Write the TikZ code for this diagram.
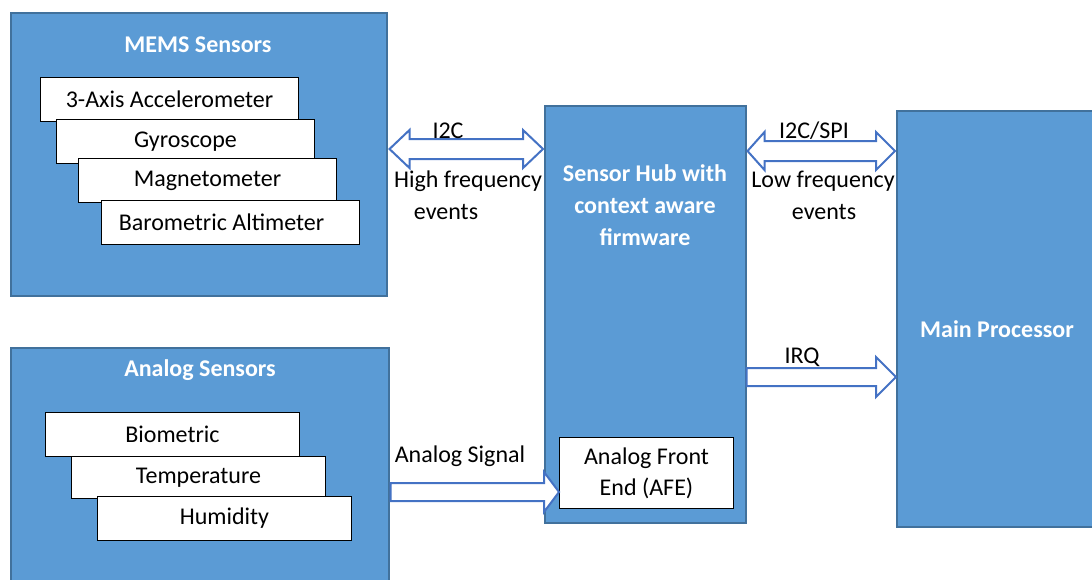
\documentclass[tikz,border=0pt]{standalone}
\usepackage{fontspec}
\setmainfont{Carlito}
\usetikzlibrary{calc}
\definecolor{boxfill}{HTML}{5B9BD5}
\definecolor{boxline}{HTML}{41719C}
\definecolor{arrline}{HTML}{4472C4}
\begin{document}
\begin{tikzpicture}[x=1pt,y=-1pt,
  bluebox/.style={draw=boxline,line width=1.5pt,fill=boxfill,anchor=north west,inner sep=0pt},
  sensor/.style={draw=black,line width=1pt,fill=white,anchor=north west,inner sep=0pt,
    minimum height=44pt,font=\fontsize{24}{28}\selectfont},
  title/.style={text=white,font=\fontsize{24}{28}\selectfont\bfseries,align=center},
  lbl/.style={font=\fontsize{24}{28}\selectfont,align=center}]
\tikzset{blockarrow/.style={draw=arrline,line width=2pt,fill=white,line join=miter}}
\useasboundingbox (0,0) rectangle (1092,579);

% sensor groups
\node[bluebox,minimum width=376pt,minimum height=283pt] (mems) at (10,12) {};
\node[title] at (198,45) {MEMS Sensors};
\node[sensor,minimum width=258pt] (acc) at (40,77) {3-Axis Accelerometer};
\node[sensor,minimum width=258pt] (gyr) at (56,119) {Gyroscope};
\node[sensor,minimum width=258pt] (mag) at (78,158) {Magnetometer};
\node[sensor,minimum width=258pt] (bar) at (101,200) {Barometric Altimeter\hspace*{18pt}};

\node[bluebox,minimum width=378pt,minimum height=240pt] (ana) at (10,347) {};
\node[title] at (200,370) {Analog Sensors};
\node[sensor,minimum width=254pt] (bio) at (45,412) {Biometric};
\node[sensor,minimum width=254pt,minimum height=42pt] (tmp) at (71,456) {Temperature};
\node[sensor,minimum width=254pt] (hum) at (97,496) {Humidity};

% hub and main processor
\node[bluebox,minimum width=201pt,minimum height=417pt] (hub) at (544,105) {};
\node[title,font=\fontsize{24}{32}\selectfont\bfseries] at (645,205)
  {Sensor Hub with\\context aware\\firmware};
\node[draw=black,line width=1pt,fill=white,anchor=north west,inner sep=0pt,
  minimum width=174pt,minimum height=71pt,align=center,
  font=\fontsize{24}{31}\selectfont] (afe) at (559,437) {Analog Front\\End (AFE)};

\node[bluebox,minimum width=200pt,minimum height=416pt] (cpu) at (896,110) {};
\node[title] at (997,329) {Main Processor};

% block arrows
\coordinate (y149) at (0,149);
\coordinate (y151) at (0,151);
\coordinate (y377) at (0,377);
\coordinate (y492) at (0,492);

\coordinate (aL) at ($(mems.east |- y149)+(2,0)$);
\coordinate (aR) at ($(hub.west |- y149)+(-1,0)$);
\draw[blockarrow] (aL) -- ($(aL)+(20,-19)$) -- ($(aL)+(20,-10)$) -- ($(aR)+(-20,-10)$)
  -- ($(aR)+(-20,-19)$) -- (aR) -- ($(aR)+(-20,19)$) -- ($(aR)+(-20,10)$)
  -- ($(aL)+(20,10)$) -- ($(aL)+(20,19)$) -- cycle;

\coordinate (bL) at ($(hub.east |- y151)+(1,0)$);
\coordinate (bR) at ($(cpu.west |- y151)+(-1,0)$);
\draw[blockarrow] (bL) -- ($(bL)+(17,-19)$) -- ($(bL)+(17,-10)$) -- ($(bR)+(-19,-10)$)
  -- ($(bR)+(-19,-19)$) -- (bR) -- ($(bR)+(-19,19)$) -- ($(bR)+(-19,10)$)
  -- ($(bL)+(17,10)$) -- ($(bL)+(17,19)$) -- cycle;

\coordinate (cL) at (hub.east |- y377);
\coordinate (cR) at (cpu.west |- y377);
\draw[blockarrow] (cL) -- ++(0,-9) -- ($(cR)+(-20,-9)$) -- ($(cR)+(-20,-20)$) -- (cR)
  -- ($(cR)+(-20,20)$) -- ($(cR)+(-20,9)$) -- ($(cL)+(0,9)$) -- cycle;

\coordinate (dL) at ($(ana.east |- y492)+(1,0)$);
\coordinate (dR) at (afe.west |- y492);
\draw[blockarrow] (dL) -- ++(0,-9) -- ($(dR)+(-15,-9)$) -- ($(dR)+(-15,-20)$) -- (dR)
  -- ($(dR)+(-15,20)$) -- ($(dR)+(-15,9)$) -- ($(dL)+(0,9)$) -- cycle;

% arrow labels
\node[lbl] at (448,131) {I2C};
\node[lbl] at (468,181) {High frequency};
\node[lbl] at (446,212) {events};
\node[lbl] at (814,131) {I2C/SPI};
\node[lbl] at (823,181) {Low frequency};
\node[lbl] at (824,212) {events};
\node[lbl] at (802,357) {IRQ};
\node[lbl] at (460,456) {Analog Signal};
\end{tikzpicture}
\end{document}
